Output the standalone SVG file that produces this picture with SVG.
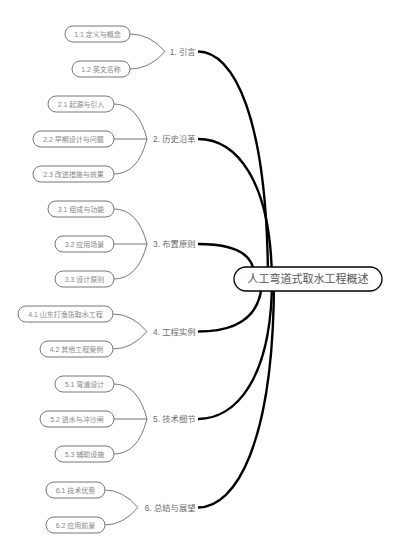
<svg xmlns="http://www.w3.org/2000/svg" width="400" height="559" viewBox="0 0 400 559">
<style>
text{font-family:"Liberation Sans","Noto Sans CJK SC",sans-serif;dominant-baseline:central}
.l2 rect{fill:#fff;stroke:#777;stroke-width:1}
.l2 text{font-size:7px;fill:#888;text-anchor:middle}
.l1 text{font-size:8.3px;fill:#6a6a6a;text-anchor:end}
.thick{fill:none;stroke:#000;stroke-width:2.4}
.thin{fill:none;stroke:#777;stroke-width:1}
</style>
<rect width="400" height="559" fill="#fff"/>
<g id="connectors">
<path class="thick" d="M198,51.5 C233,51.5 268,115 268,285"/>
<path class="thick" d="M198,139 C235,139 272,178 272,285"/>
<path class="thick" d="M198,244 Q254,244 254,275 L254,285"/>
<path class="thick" d="M198,331.5 Q262,331.5 262,279"/>
<path class="thick" d="M198,419 C235,419 272,380 272,279"/>
<path class="thick" d="M198,507.5 C236,507.5 274,443 274,279"/>
<path class="thin" d="M130,34 Q150,34 165,51.5"/>
<path class="thin" d="M130,69 Q150,69 165,51.5"/>
<path class="thin" d="M114,104 Q138,104 147,139"/>
<path class="thin" d="M114,139 L147,139"/>
<path class="thin" d="M114,174 Q138,174 147,139"/>
<path class="thin" d="M114,209 Q138,209 147,244"/>
<path class="thin" d="M114,244 L147,244"/>
<path class="thin" d="M114,279 Q138,279 147,244"/>
<path class="thin" d="M113,314 Q132,314 147,331.5"/>
<path class="thin" d="M113,349 Q132,349 147,331.5"/>
<path class="thin" d="M114,384 Q138,384 147,419"/>
<path class="thin" d="M114,419 L147,419"/>
<path class="thin" d="M114,454 Q138,454 147,419"/>
<path class="thin" d="M105,490 Q123,490 138,507.5"/>
<path class="thin" d="M105,525 Q123,525 138,507.5"/>
</g>
<g id="root">
<rect x="234" y="267" width="148" height="24" rx="12" fill="#fff" stroke="#000" stroke-width="1.3"/>
<text x="308" y="279" font-size="11" fill="#555" text-anchor="middle">人工弯道式取水工程概述</text>
</g>
<g id="n1" class="l1"><text x="195.5" y="51.5">1. 引言</text></g>
<g id="n2" class="l1"><text x="195.5" y="139">2. 历史沿革</text></g>
<g id="n3" class="l1"><text x="195.5" y="244">3. 布置原则</text></g>
<g id="n4" class="l1"><text x="195.5" y="331.5">4. 工程实例</text></g>
<g id="n5" class="l1"><text x="195.5" y="419">5. 技术细节</text></g>
<g id="n6" class="l1"><text x="195.5" y="507.5">6. 总结与展望</text></g>
<g id="n1-1" class="l2"><rect x="65" y="26" width="65" height="16" rx="8"/><text x="97.5" y="34">1.1 定义与概念</text></g>
<g id="n1-2" class="l2"><rect x="72" y="61" width="58" height="16" rx="8"/><text x="101" y="69">1.2 英文名称</text></g>
<g id="n2-1" class="l2"><rect x="48" y="96" width="66" height="16" rx="8"/><text x="81" y="104">2.1 起源与引入</text></g>
<g id="n2-2" class="l2"><rect x="33" y="131" width="81" height="16" rx="8"/><text x="73.5" y="139">2.2 早期设计与问题</text></g>
<g id="n2-3" class="l2"><rect x="33" y="166" width="81" height="16" rx="8"/><text x="73.5" y="174">2.3 改进措施与效果</text></g>
<g id="n3-1" class="l2"><rect x="48" y="201" width="66" height="16" rx="8"/><text x="81" y="209">3.1 组成与功能</text></g>
<g id="n3-2" class="l2"><rect x="55" y="236" width="59" height="16" rx="8"/><text x="84.5" y="244">3.2 应用场景</text></g>
<g id="n3-3" class="l2"><rect x="55" y="271" width="59" height="16" rx="8"/><text x="84.5" y="279">3.3 设计原则</text></g>
<g id="n4-1" class="l2"><rect x="18" y="306" width="95" height="16" rx="8"/><text x="65.5" y="314">4.1 山东打渔张取水工程</text></g>
<g id="n4-2" class="l2"><rect x="40" y="341" width="73" height="16" rx="8"/><text x="76.5" y="349">4.2 其他工程案例</text></g>
<g id="n5-1" class="l2"><rect x="55" y="376" width="59" height="16" rx="8"/><text x="84.5" y="384">5.1 弯道设计</text></g>
<g id="n5-2" class="l2"><rect x="40" y="411" width="74" height="16" rx="8"/><text x="77" y="419">5.2 进水与冲沙闸</text></g>
<g id="n5-3" class="l2"><rect x="55" y="446" width="59" height="16" rx="8"/><text x="84.5" y="454">5.3 辅助设施</text></g>
<g id="n6-1" class="l2"><rect x="46" y="482" width="59" height="16" rx="8"/><text x="75.5" y="490">6.1 技术优势</text></g>
<g id="n6-2" class="l2"><rect x="46" y="517" width="59" height="16" rx="8"/><text x="75.5" y="525">6.2 应用前景</text></g>
</svg>
